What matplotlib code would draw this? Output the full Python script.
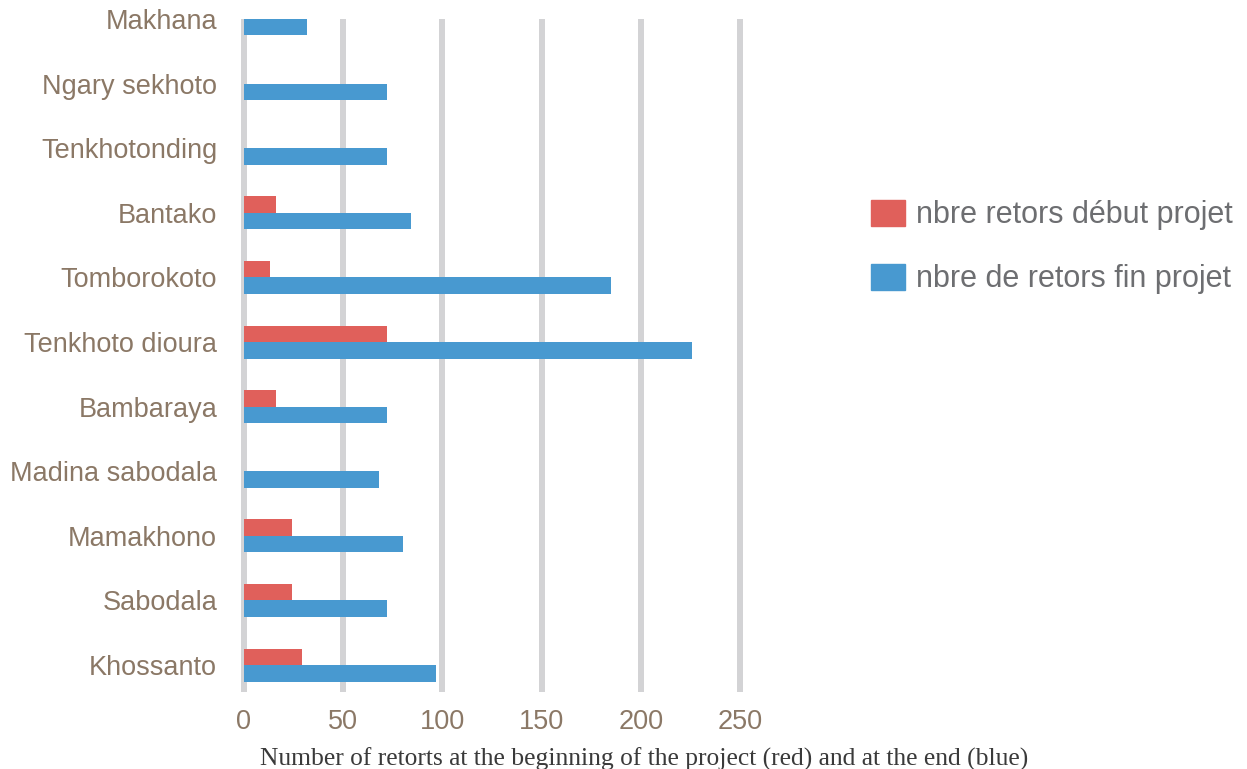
import numpy as np
import matplotlib.pyplot as plt
from matplotlib.patches import Patch

# Villages, listed from the bottom of the chart upwards
villages = ["Khossanto", "Sabodala", "Mamakhono", "Madina sabodala", "Bambaraya",
            "Tenkhoto dioura", "Tomborokoto", "Bantako", "Tenkhotonding",
            "Ngary sekhoto", "Makhana"]

# Number of retorts at the start (red) and at the end (blue) of the project
retors_debut = [29, 24, 24, 0, 16, 72, 13, 16, 0, 0, 0]
retors_fin = [97, 72, 80, 68, 72, 226, 185, 84, 72, 72, 32]

x_ticks = [0, 50, 100, 150, 200, 250]

red = "#e0605b"
blue = "#4899d0"
label_col = "#8b7866"

plt.rcParams['font.family'] = ['Liberation Sans', 'DejaVu Sans']

fig = plt.figure(figsize=(12.47, 7.69), dpi=100)
ax = fig.add_axes([0.1931, 0.1001, 0.4067, 0.8752])

y = np.arange(len(villages))
h = 0.255
ax.barh(y + h / 2, retors_debut, height=h, color=red, label="nbre retors début projet", zorder=3)
ax.barh(y - h / 2, retors_fin, height=h, color=blue, label="nbre de retors fin projet", zorder=3)

ax.set_xlim(-1.6, 254)
ax.set_ylim(-0.417, 9.985)
ax.set_xticks(x_ticks)
ax.set_yticks(y)
ax.set_yticklabels(villages)
ax.tick_params(axis='both', length=0, labelsize=19.5, labelcolor=label_col)
ax.tick_params(axis='y', pad=17)
ax.tick_params(axis='x', pad=12)
ax.xaxis.grid(True, color="#d3d3d5", linewidth=4.3, zorder=0)
ax.set_axisbelow(True)
for s in ax.spines.values():
    s.set_visible(False)

ax.set_xlabel("Number of retorts at the beginning of the project (red) and at the end (blue)",
              family=['Liberation Serif', 'DejaVu Serif'], fontsize=18.4, color="#3a3a3a")
ax.xaxis.set_label_coords((644 - 240.8) / 507.2, -(748 - 692) / 673)

handles = [Patch(color=red), Patch(color=blue)]
fig.legend(handles, ["nbre retors début projet", "nbre de retors fin projet"],
           loc='center left', bbox_to_anchor=(871 / 1247, 1 - 247 / 769),
           frameon=False, fontsize=22, labelcolor="#6d6e71",
           handlelength=1.12, handleheight=0.93, handletextpad=0.35,
           labelspacing=1.1, borderpad=0, borderaxespad=0)

fig.savefig("out.png", dpi=100)
